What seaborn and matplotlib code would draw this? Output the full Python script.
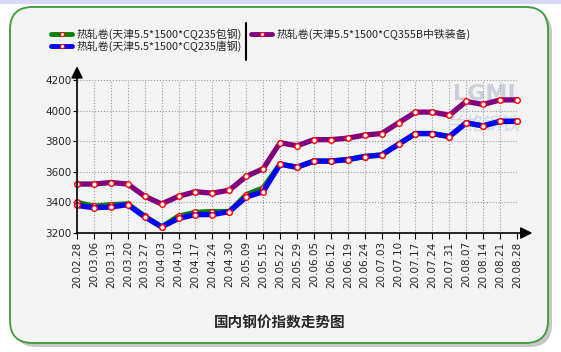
import numpy as np
import pandas as pd
import matplotlib
matplotlib.use('Agg')
import matplotlib.pyplot as plt
from matplotlib.patches import FancyBboxPatch, Rectangle
from matplotlib.lines import Line2D
import seaborn as sns

dates = ['20.02.28', '20.03.06', '20.03.13', '20.03.20', '20.03.27', '20.04.03', '20.04.10',
         '20.04.17', '20.04.24', '20.04.30', '20.05.09', '20.05.15', '20.05.22', '20.05.29',
         '20.06.05', '20.06.12', '20.06.19', '20.06.24', '20.07.03', '20.07.10', '20.07.17',
         '20.07.24', '20.07.31', '20.08.07', '20.08.14', '20.08.21', '20.08.28']

baogang = [3400, 3375, 3385, 3390, 3310, 3240, 3310, 3335, 3340, 3340, 3450, 3495, 3650, 3630,
           3670, 3670, 3680, 3700, 3710, 3780, 3850, 3850, 3830, 3920, 3900, 3930, 3930]
tanggang = [3380, 3365, 3370, 3385, 3305, 3240, 3295, 3320, 3320, 3340, 3435, 3470, 3650, 3630,
            3670, 3670, 3680, 3700, 3710, 3780, 3850, 3850, 3830, 3920, 3900, 3930, 3930]
zhongtie = [3520, 3520, 3530, 3520, 3440, 3390, 3440, 3470, 3460, 3480, 3570, 3620, 3790, 3770,
            3810, 3810, 3820, 3840, 3850, 3920, 3990, 3990, 3970, 4060, 4040, 4070, 4070]

names = ['热轧卷(天津5.5*1500*CQ235包钢)', '热轧卷(天津5.5*1500*CQ235唐钢)',
         '热轧卷(天津5.5*1500*CQ355B中铁装备)']
colors = ['#008000', '#0000ff', '#800080']
yticks = [3200, 3400, 3600, 3800, 4000, 4200]

sns.set_style('white')
plt.rcParams['font.family'] = ['DejaVu Sans', 'Noto Sans CJK SC']

fig = plt.figure(figsize=(5.61, 3.52), dpi=100)
fig.patch.set_facecolor('white')

W, H = 561.0, 352.0
# top band, shadow and rounded panel (behind the axes)
fig.patches.append(Rectangle((0, 1 - 4 / H), 1, 4 / H, transform=fig.transFigure,
                             facecolor='#d8d8f4', edgecolor='none', zorder=-3))
fig.patches.append(FancyBboxPatch((14 / W, 1 - 347 / H), 538 / W, 336 / H,
                                  boxstyle='round,pad=0,rounding_size=0.04',
                                  transform=fig.transFigure, facecolor='#c8c8c8',
                                  edgecolor='none', zorder=-2, mutation_aspect=W / H))
fig.patches.append(FancyBboxPatch((10 / W, 1 - 343 / H), 538 / W, 336 / H,
                                  boxstyle='round,pad=0,rounding_size=0.04',
                                  transform=fig.transFigure, facecolor='#f4f4f4',
                                  edgecolor='#3c9a3c', linewidth=1.3, zorder=-1,
                                  mutation_aspect=W / H))

# watermark
fig.text(484 / W, 1 - 94 / H, 'LGMI', fontsize=16, color='#a0aec4', alpha=0.5,
         ha='center', va='center', fontweight='bold', zorder=-0.5)
fig.text(484 / W, 1 - 126 / H, '兰格钢铁', fontsize=13, color='#a8bcdc', alpha=0.5,
         ha='center', va='center', family=['Noto Sans CJK SC'], zorder=-0.5)

ax = fig.add_axes([77 / W, 119 / H, 440 / W, 153 / H])
ax.set_facecolor('none')

df = pd.DataFrame({'x': np.arange(len(dates))})
for name, vals, col in zip(names, [baogang, tanggang, zhongtie], colors):
    df['y'] = vals
    sns.lineplot(data=df, x='x', y='y', ax=ax, color=col, linewidth=3.8,
                 marker='o', markersize=4, markerfacecolor='white',
                 markeredgecolor='red', markeredgewidth=1.0, clip_on=False, zorder=3)

ax.set_xlim(0, len(dates) - 1)
ax.set_ylim(3200, 4200)
ax.set_xticks(np.arange(len(dates)))
ax.set_xticklabels(dates, rotation=90, fontsize=7.5)
ax.set_yticks(yticks)
ax.set_yticklabels([str(v) for v in yticks], fontsize=7.5)
ax.set_xlabel('')
ax.set_ylabel('')
ax.grid(True, color='#999999', linestyle=':', linewidth=0.8)
for s in ax.spines.values():
    s.set_visible(False)
ax.tick_params(axis='x', direction='out', length=4, width=0.8, color='black', pad=2, bottom=True)
ax.tick_params(axis='y', direction='out', length=3, width=0.8, color='black', pad=1, left=True)

ax.annotate('', xy=(0, 1.09), xytext=(0, 0), xycoords='axes fraction',
            arrowprops=dict(arrowstyle='-|>,head_length=0.7,head_width=0.35',
                            color='black', lw=1.2, shrinkA=0, shrinkB=0))
ax.annotate('', xy=(1.035, 0), xytext=(0, 0), xycoords='axes fraction',
            arrowprops=dict(arrowstyle='-|>,head_length=0.7,head_width=0.35',
                            color='black', lw=1.2, shrinkA=0, shrinkB=0))

handles = [Line2D([], [], color=c, linewidth=3.5, marker='o', markersize=3,
                  markerfacecolor='white', markeredgecolor='red', markeredgewidth=0.8)
           for c in colors]
fig.legend(handles, names, loc='upper left', bbox_to_anchor=(46 / W, 1 - 23 / H),
           ncol=2, frameon=False, handlelength=1.9, handletextpad=0.4,
           columnspacing=0.9, labelspacing=0.0, borderpad=0,
           prop={'family': ['Noto Sans CJK SC'], 'size': 7.8})
fig.add_artist(Line2D([246 / W, 246 / W], [1 - 23 / H, 1 - 60 / H], color='black',
                      linewidth=1.5, transform=fig.transFigure))

fig.text(280 / W, 1 - 322 / H, '国内钢价指数走势图', fontsize=10.5, fontweight='bold',
         ha='center', va='center', family=['Noto Sans CJK SC'])

fig.savefig('out.png', dpi=100, facecolor=fig.get_facecolor())
